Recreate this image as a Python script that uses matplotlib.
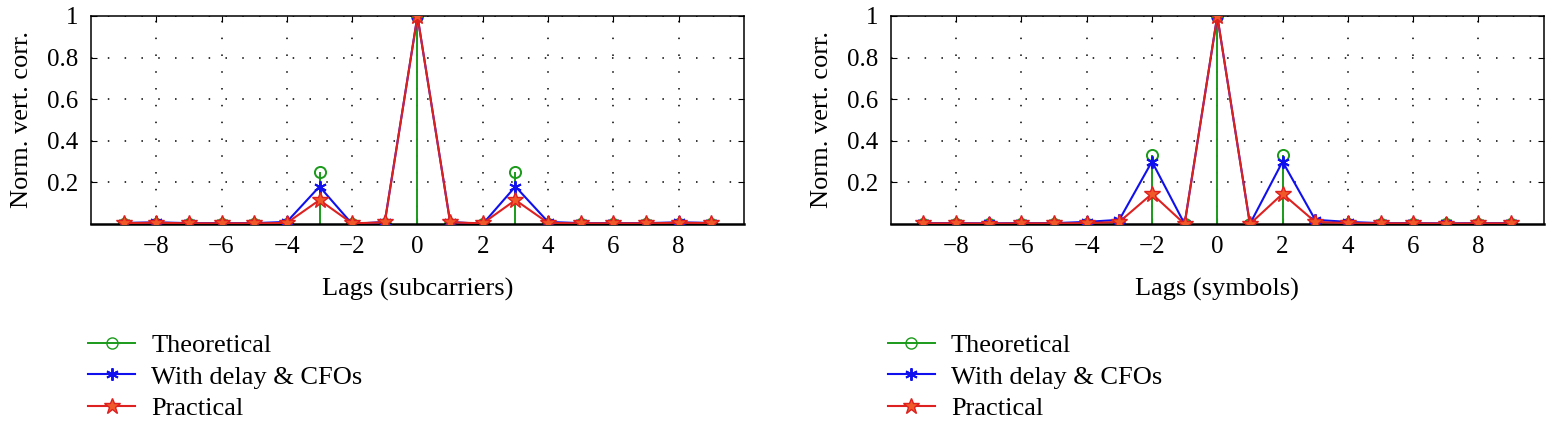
import numpy as np
import matplotlib
matplotlib.use("Agg")
import matplotlib.pyplot as plt
from matplotlib.lines import Line2D

plt.rcParams["font.family"] = ["Liberation Serif", "DejaVu Serif"]

lags = np.arange(-9, 10)

# subcarrier lags
theo_sc = [0, 0, 0, 0, 0, 0, 0.25, 0, 0, 1, 0, 0, 0.25, 0, 0, 0, 0, 0, 0]
cfo_sc = [0.005, 0.008, 0.004, 0.004, 0.004, 0.01, 0.18, 0.0, 0.01, 1,
          0.01, 0.0, 0.18, 0.01, 0.004, 0.004, 0.004, 0.008, 0.005]
prac_sc = [0.004, 0.006, 0.003, 0.003, 0.003, 0.005, 0.115, 0.003, 0.008, 1,
           0.008, 0.003, 0.115, 0.005, 0.003, 0.003, 0.003, 0.006, 0.004]

# symbol lags
theo_sy = [0, 0, 0, 0, 0, 0, 0, 0.33, 0, 1, 0, 0.33, 0, 0, 0, 0, 0, 0, 0]
cfo_sy = [0.004, 0.004, 0.003, 0.004, 0.004, 0.01, 0.02, 0.30, 0.0, 1,
          0.0, 0.30, 0.02, 0.01, 0.004, 0.004, 0.003, 0.004, 0.004]
prac_sy = [0.003, 0.003, 0.002, 0.003, 0.003, 0.004, 0.01, 0.145, 0.0, 1,
           0.0, 0.145, 0.01, 0.004, 0.003, 0.003, 0.002, 0.003, 0.003]

x_ticks = [-8, -6, -4, -2, 0, 2, 4, 6, 8]
x_labels = ["\u22128", "\u22126", "\u22124", "\u22122", "0", "2", "4", "6", "8"]
y_ticks = [0.2, 0.4, 0.6, 0.8, 1.0]
y_labels = ["0.2", "0.4", "0.6", "0.8", "1"]

GREEN = "#1a9a1a"
BLUE = "#1010ee"
RED = "#dd2020"
ORANGE = "#f05a28"
ASTERISK = (6, 2, 0)

fig = plt.figure(figsize=(15.6, 4.21), dpi=100)


def draw_panel(ax, theo, cfo, prac, xlabel):
    ax.vlines(lags, 0, theo, color=GREEN, lw=1.4, zorder=2)
    ax.plot(lags, theo, ls="none", marker="o", ms=8, mfc="none",
            mec=GREEN, mew=1.4, zorder=2)
    ax.plot(lags, cfo, color=BLUE, lw=1.5, marker=ASTERISK, ms=9,
            mec=BLUE, mew=1.4, zorder=3)
    ax.plot(lags, prac, color=RED, lw=1.5, marker="*", ms=12,
            mec=RED, mfc=ORANGE, mew=1.0, zorder=4)
    ax.set_xlim(-10, 10)
    ax.set_ylim(0, 1)
    ax.set_xticks(x_ticks)
    ax.set_xticklabels(x_labels)
    ax.set_yticks(y_ticks)
    ax.set_yticklabels(y_labels)
    ax.grid(True, ls=(0, (1, 10)), color="black", lw=1.1)
    ax.tick_params(labelsize=18, direction="in", length=4,
                   top=True, right=True, pad=9)
    ax.set_xlabel(xlabel, fontsize=19, labelpad=14)
    ax.set_ylabel("Norm. vert. corr.", fontsize=19, labelpad=10)
    for s in ax.spines.values():
        s.set_linewidth(1.1)
    ax.spines["bottom"].set_linewidth(1.8)


ax1 = fig.add_axes([0.0583, 0.468, 0.4186, 0.494])
draw_panel(ax1, theo_sc, cfo_sc, prac_sc, "Lags (subcarriers)")
ax2 = fig.add_axes([0.571, 0.468, 0.4186, 0.494])
draw_panel(ax2, theo_sy, cfo_sy, prac_sy, "Lags (symbols)")

handles = [
    Line2D([], [], color=GREEN, lw=1.4, marker="o", ms=8, mfc="none", mec=GREEN),
    Line2D([], [], color=BLUE, lw=1.5, marker=ASTERISK, ms=9, mec=BLUE, mew=1.4),
    Line2D([], [], color=RED, lw=1.5, marker="*", ms=12, mfc=ORANGE, mec=RED),
]
names = ["Theoretical", "With delay & CFOs", "Practical"]
for x0 in (0.0564, 0.569):
    fig.legend(handles, names, loc="upper left", bbox_to_anchor=(x0, 0.207),
               frameon=False, fontsize=19, handlelength=1.8,
               labelspacing=0.3, borderpad=0, borderaxespad=0,
               handletextpad=0.6)

fig.savefig("out.png", dpi=100)
